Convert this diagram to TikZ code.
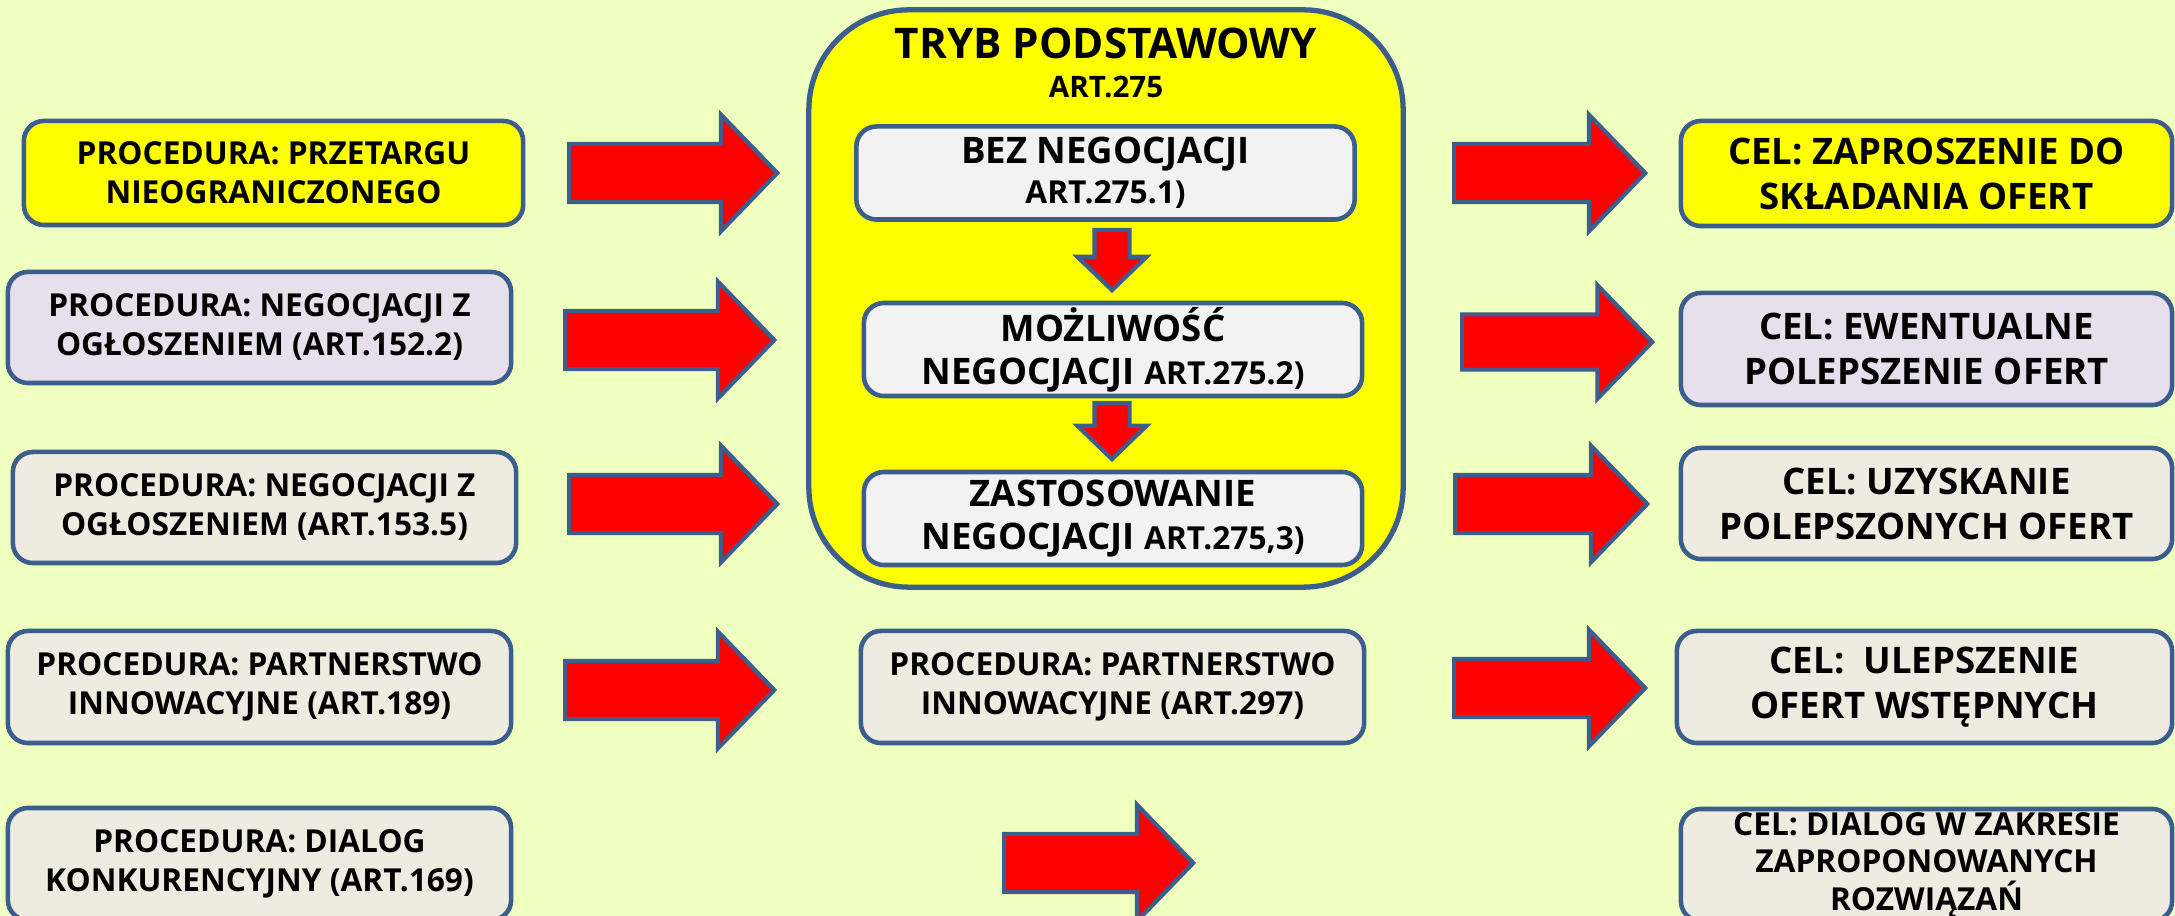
\documentclass[tikz,border=0pt]{standalone}
\usepackage{fontspec}
\setmainfont{Open Sans}
\usetikzlibrary{shapes.arrows}

\definecolor{tlo}{RGB}{238,255,192}
\definecolor{ramka}{RGB}{59,94,140}
\definecolor{zolty}{RGB}{255,255,0}
\definecolor{lawenda}{RGB}{229,224,236}
\definecolor{bezowy}{RGB}{238,236,225}
\definecolor{szary}{RGB}{242,242,242}

\begin{document}
\begin{tikzpicture}[x = 0.01cm, y = -0.01cm,
    kafel/.style = {shape = rectangle, rounded corners = 0.2cm, draw = ramka, line width = 1.3pt,
        align = center, inner sep = 0pt},
    procbox/.style = {kafel, minimum width = 5.03cm, minimum height = 1.11cm, fill = bezowy,
        font = \bfseries\fontsize{9}{11.1}\selectfont},
    celbox/.style = {kafel, minimum width = 4.91cm, minimum height = 1.11cm, fill = bezowy,
        font = \bfseries\fontsize{10.4}{12.8}\selectfont},
    etapbox/.style = {kafel, minimum width = 4.98cm, minimum height = 0.93cm, fill = szary,
        font = \bfseries\fontsize{10.4}{12.2}\selectfont},
    strzalka/.style = {shape = single arrow, anchor = tail, draw = ramka, fill = red, line width = 1.2pt,
        inner xsep = 0pt, inner ysep = 0.27cm, minimum width = 1.12cm, single arrow head extend = 0.29cm,
        single arrow tip angle = 92, minimum height = 2.08cm},
    wdol/.style = {strzalka, rotate = -90, inner ysep = 0.155cm, minimum width = 0.65cm,
        single arrow head extend = 0.17cm, minimum height = 0.6cm}]

    \useasboundingbox[fill = tlo] (0,0) rectangle (2175,916);
    \clip (0,0) rectangle (2175,916);

    \node[procbox, fill = zolty, minimum width = 4.99cm, minimum height = 1.04cm] (proc1) at (273.5,173)
        {PROCEDURA: PRZETARGU\\NIEOGRANICZONEGO};
    \node[procbox, fill = lawenda] (proc2) at (259.5,327.5) {PROCEDURA: NEGOCJACJI Z\\OGŁOSZENIEM (ART.152.2)};
    \node[procbox] (proc3) at (264.5,507.5) {PROCEDURA: NEGOCJACJI Z\\OGŁOSZENIEM (ART.153.5)};
    \node[procbox, minimum height = 1.12cm] (proc4) at (259.5,687) {PROCEDURA: PARTNERSTWO\\INNOWACYJNE (ART.189)};
    \node[procbox, minimum height = 1.12cm] (proc5) at (259.5,864) {PROCEDURA: DIALOG\\KONKURENCYJNY (ART.169)};

    \node[kafel, rounded corners = 1cm, line width = 1.5pt, fill = zolty,
        minimum width = 5.94cm, minimum height = 5.77cm] (tryb) at (1106,298.5) {};
    \node[anchor = base, font = \bfseries\fontsize{12}{14}\selectfont] (trybtyt) at (1106,59) {TRYB PODSTAWOWY};
    \node[anchor = base, font = \bfseries\fontsize{8.4}{10}\selectfont] (trybart) at (1106,98) {ART.275};

    \node[etapbox] (etap1) at (1105.5,173) {BEZ NEGOCJACJI\\[-0.8pt]{\fontsize{9}{11}\selectfont ART.275.1)}};
    \node[etapbox] (etap2) at (1113,349.5) {MOŻLIWOŚĆ\\NEGOCJACJI {\fontsize{9}{11}\selectfont ART.275.2)}};
    \node[etapbox] (etap3) at (1113,518.5) {ZASTOSOWANIE\\NEGOCJACJI {\fontsize{9}{11}\selectfont ART.275,3)}};
    \node[wdol] (wdol1) at (1112,228) {};
    \node[wdol, minimum height = 0.56cm] (wdol2) at (1112,401) {};

    \node[procbox, minimum height = 1.12cm] (proc6) at (1112.5,687) {PROCEDURA: PARTNERSTWO\\INNOWACYJNE (ART.297)};

    \node[celbox, fill = zolty, minimum height = 1.05cm] (cel1) at (1926.5,173.5) {CEL: ZAPROSZENIE DO\\SKŁADANIA OFERT};
    \node[celbox, fill = lawenda, minimum height = 1.12cm] (cel2) at (1926.5,349) {CEL: EWENTUALNE\\POLEPSZENIE OFERT};
    \node[celbox] (cel3) at (1926.5,503.5) {CEL: UZYSKANIE\\POLEPSZONYCH OFERT};
    \node[celbox, minimum width = 4.95cm, minimum height = 1.12cm] (cel4) at (1924.5,687) {CEL:\ \ ULEPSZENIE\\OFERT WSTĘPNYCH};
    \node[celbox, minimum height = 1.12cm, font = \bfseries\fontsize{9}{10.7}\selectfont] (cel5) at (1926.5,865)
        {CEL: DIALOG W ZAKRESIE\\ZAPROPONOWANYCH\\ROZWIĄZAŃ};

    \node[strzalka] (lew1) at (567,173) {};
    \node[strzalka, minimum height = 2.09cm, minimum width = 1.13cm] (lew2) at (563,340) {};
    \node[strzalka] (lew3) at (567,504) {};
    \node[strzalka, minimum height = 2.09cm] (lew4) at (563,690) {};
    \node[strzalka, minimum height = 1.89cm, minimum width = 1.10cm] (lew5) at (1002,863) {};
    \node[strzalka, minimum height = 1.91cm, minimum width = 1.11cm] (pra1) at (1452,173) {};
    \node[strzalka, minimum height = 1.90cm, minimum width = 1.08cm, inner ysep = 0.255cm] (pra2) at (1460,342) {};
    \node[strzalka, minimum height = 1.92cm, minimum width = 1.11cm] (pra3) at (1453,504) {};
    \node[strzalka, minimum height = 1.91cm, minimum width = 1.11cm] (pra4) at (1452,688) {};
\end{tikzpicture}
\end{document}
